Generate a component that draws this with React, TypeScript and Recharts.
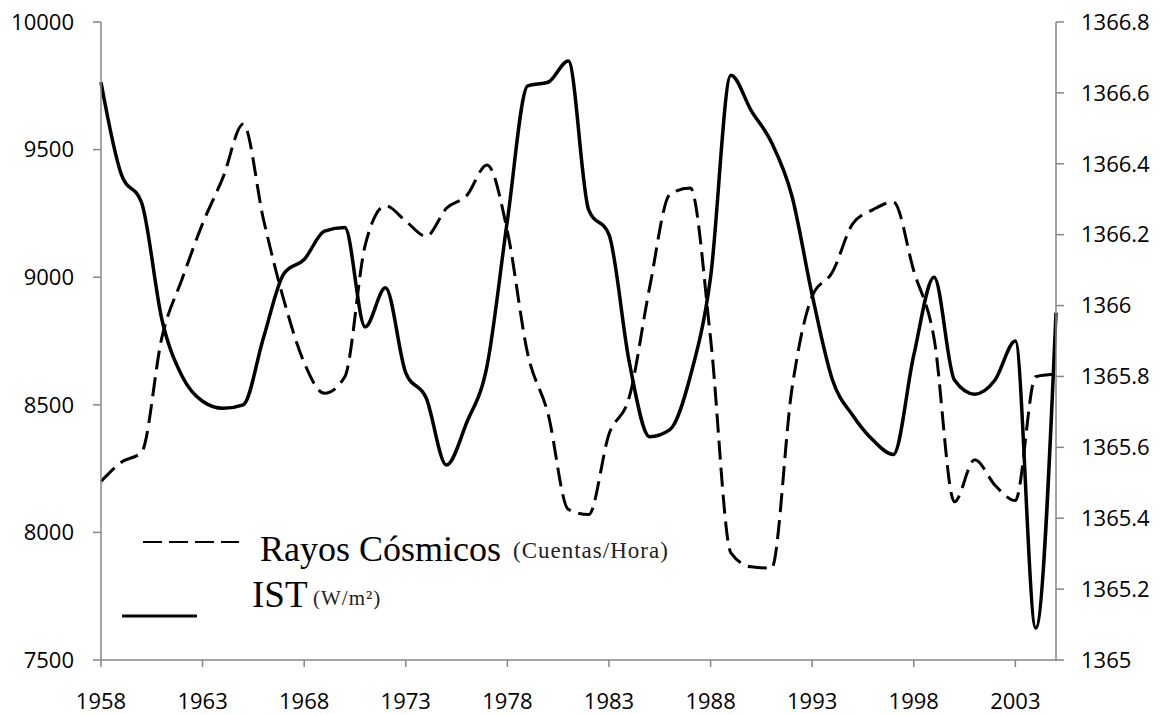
import React from 'react';
import { LineChart, Line, XAxis, YAxis } from 'recharts';

const years = [
  1958, 1959, 1960, 1961, 1962, 1963, 1964, 1965, 1966, 1967, 1968, 1969,
  1970, 1971, 1972, 1973, 1974, 1975, 1976, 1977, 1978, 1979, 1980, 1981,
  1982, 1983, 1984, 1985, 1986, 1987, 1988, 1989, 1990, 1991, 1992, 1993,
  1994, 1995, 1996, 1997, 1998, 1999, 2000, 2001, 2002, 2003, 2004, 2005,
];

// Rayos cósmicos (cuentas/hora) - eje izquierdo
const rayosCosmicos = [
  8200, 8275, 8315, 8765, 8995, 9210, 9390, 9600, 9225, 8910, 8665, 8545,
  8610, 9125, 9280, 9220, 9160, 9270, 9320, 9440, 9180, 8700, 8465, 8090,
  8070, 8385, 8530, 8960, 9325, 9350, 8760, 7920, 7865, 7860, 8560, 8925,
  9020, 9210, 9265, 9295, 9025, 8760, 8120, 8285, 8185, 8125, 8610, 8620,
];

// IST (W/m2) - eje derecho
const ist = [
  1366.63, 1366.37, 1366.29, 1365.96, 1365.8, 1365.73, 1365.71, 1365.72, 1365.91, 1366.09, 1366.13, 1366.21,
  1366.22, 1365.94, 1366.05, 1365.81, 1365.74, 1365.55, 1365.67, 1365.83, 1366.24, 1366.62, 1366.63, 1366.69,
  1366.27, 1366.2, 1365.84, 1365.63, 1365.65, 1365.8, 1366.08, 1366.65, 1366.55, 1366.46, 1366.31, 1366.03,
  1365.79, 1365.69, 1365.62, 1365.58, 1365.86, 1366.08, 1365.79, 1365.75, 1365.79, 1365.9, 1365.09, 1365.98,
];

const xTicks = [1958, 1963, 1968, 1973, 1978, 1983, 1988, 1993, 1998, 2003];
const leftTicks = [7500, 8000, 8500, 9000, 9500, 10000];
const rightTicks = [1365, 1365.2, 1365.4, 1365.6, 1365.8, 1366, 1366.2, 1366.4, 1366.6, 1366.8];

const data = years.map((year, i) => ({ year, rayos: rayosCosmicos[i], ist: ist[i] }));

const axisColor = '#868686';
const tickStyle = { fill: '#000', fontSize: 22, fontFamily: '"Open Sans", sans-serif' };
const serif = '"Liberation Serif", "DejaVu Serif", serif';

const App = () => {
  return (
    <div style={{ position: 'absolute', left: 0, top: 0, width: 1165, height: 714, background: '#fff' }}>
      <LineChart width={1165} height={714} data={data} margin={{ top: 22, right: 0, bottom: 0, left: 0 }}>
        <XAxis
          dataKey="year"
          type="number"
          domain={[1958, 2005]}
          ticks={xTicks}
          interval={0}
          height={54}
          stroke={axisColor}
          strokeWidth={1.5}
          tickSize={7}
          tickMargin={26}
          tick={tickStyle}
          tickLine={{ stroke: axisColor, strokeWidth: 1.5 }}
        />
        <YAxis
          yAxisId="left"
          domain={[7500, 10000]}
          ticks={leftTicks}
          width={101}
          stroke={axisColor}
          strokeWidth={1.5}
          tickSize={8}
          tickMargin={19}
          tick={tickStyle}
          tickLine={{ stroke: axisColor, strokeWidth: 1.5 }}
        />
        <YAxis
          yAxisId="right"
          orientation="right"
          domain={[1365, 1366.8]}
          ticks={rightTicks}
          tickFormatter={(v: number) => String(Math.round(v * 10) / 10)}
          width={109}
          stroke={axisColor}
          strokeWidth={1.5}
          tickSize={8}
          tickMargin={17}
          tick={{ ...tickStyle, textAnchor: 'start' }}
          tickLine={{ stroke: axisColor, strokeWidth: 1.5 }}
        />
        <Line
          yAxisId="left"
          dataKey="rayos"
          type="monotone"
          stroke="#000"
          strokeWidth={3}
          strokeDasharray="19 8"
          dot={false}
          isAnimationActive={false}
        />
        <Line
          yAxisId="right"
          dataKey="ist"
          type="monotone"
          stroke="#000"
          strokeWidth={3.5}
          dot={false}
          isAnimationActive={false}
        />
      </LineChart>

      {/* leyenda */}
      <svg style={{ position: 'absolute', left: 0, top: 0, pointerEvents: 'none' }} width={1165} height={714}>
        <line x1={143} y1={542} x2={239} y2={542} stroke="#000" strokeWidth={2} strokeDasharray="19 7" />
        <line x1={122} y1={616} x2={197} y2={616} stroke="#000" strokeWidth={3} />
        <g fontFamily={serif}>
          <text x={260} y={561} fontSize={36} fill="#000">Rayos Cósmicos</text>
          <text x={513} y={558} fontSize={23} letterSpacing={1} fill="#222">(Cuentas/Hora)</text>
          <text x={252} y={607} fontSize={37} fill="#000">IST</text>
          <text x={313} y={605} fontSize={21} letterSpacing={1} fill="#222">(W/m²)</text>
        </g>
      </svg>
    </div>
  );
};

export default App;
